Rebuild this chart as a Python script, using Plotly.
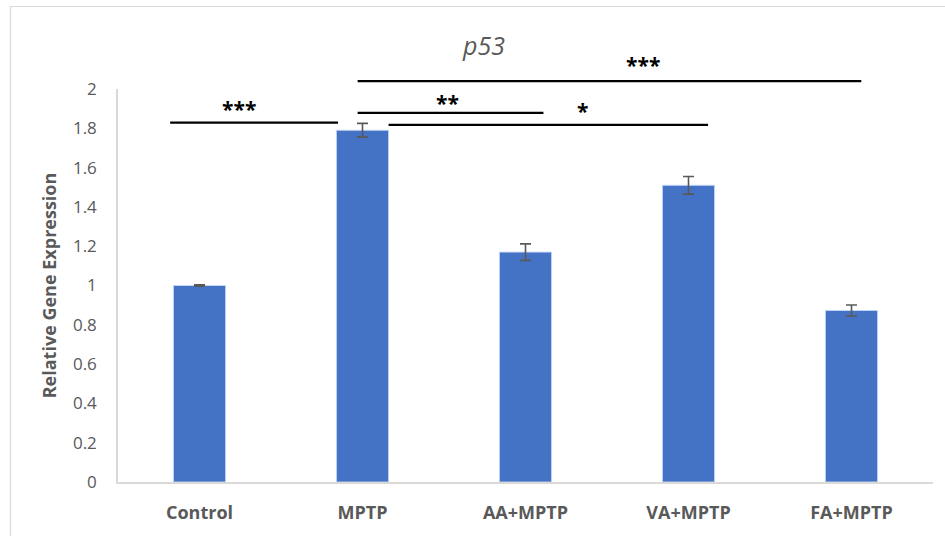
import plotly.graph_objects as go

categories = ["Control", "MPTP", "AA+MPTP", "VA+MPTP", "FA+MPTP"]
values = [1.0, 1.79, 1.17, 1.51, 0.873]
errors = [0.004, 0.035, 0.042, 0.045, 0.028]
y_ticks = [0, 0.2, 0.4, 0.6, 0.8, 1.0, 1.2, 1.4, 1.6, 1.8, 2.0]
y_tick_labels = ["0", "0.2", "0.4", "0.6", "0.8", "1", "1.2", "1.4", "1.6", "1.8", "2"]
# significance brackets: (x_start, x_end, y_line, label, x_label, y_label) in category/data units
brackets = [
    (-0.18, 0.85, 1.829, "***", 0.24, 1.90),
    (0.97, 4.06, 2.04, "***", 2.72, 2.12),
    (0.97, 2.11, 1.879, "**", 1.52, 1.93),
    (1.16, 3.12, 1.817, "*", 2.35, 1.89),
]
Y_MAX = 2.0

W, H = 945, 536
L, R, T, B = 118, 12, 89, 54
PW, PH = W - L - R, H - T - B

FONT = "Open Sans"
GREY = "#595959"

fig = go.Figure()
fig.add_trace(go.Bar(
    x=categories, y=values,
    marker=dict(color="#4472C4", line=dict(color="rgba(200,215,245,0.9)", width=1)),
    error_y=dict(type="data", array=errors, visible=True, color=GREY, thickness=1.6, width=5.5),
    width=0.32,
))

n = len(categories)
shapes = []
annotations = []
for x0, x1, yl, lab, xl, yt in brackets:
    shapes.append(dict(type="line", xref="x domain", yref="y domain",
                       x0=(x0 + 0.5) / n, x1=(x1 + 0.5) / n,
                       y0=yl / Y_MAX, y1=yl / Y_MAX,
                       line=dict(color="black", width=2.2)))
    annotations.append(dict(text="<b>" + lab + "</b>", x=(xl + 0.5) / n, y=yt / Y_MAX,
                            xref="x domain", yref="y domain", showarrow=False,
                            font=dict(family=FONT, size=21, color="black"),
                            xanchor="center", yanchor="middle"))

# chart frame (light grey border)
px = lambda p: (p - L) / PW
py = lambda p: (H - B - p) / PH
shapes.append(dict(type="rect", xref="paper", yref="paper",
                   x0=px(10.5), x1=px(W + 20), y0=py(H + 20), y1=py(6.5),
                   line=dict(color="#d9d9d9", width=1.2), fillcolor="rgba(0,0,0,0)", layer="below"))

annotations.append(dict(text="<i>p53</i>", xref="paper", yref="paper",
                        x=px(483), y=py(45), showarrow=False,
                        font=dict(family=FONT, size=25, color=GREY),
                        xanchor="center", yanchor="middle"))

fig.update_layout(
    width=W, height=H,
    margin=dict(l=L, r=R, t=T, b=B),
    plot_bgcolor="white", paper_bgcolor="white",
    showlegend=False,
    shapes=shapes, annotations=annotations,
    bargap=0.68,
    xaxis=dict(showline=True, linecolor="#d9d9d9", linewidth=1.5, showgrid=False,
               ticks="", tickfont=dict(family=FONT, size=18, color=GREY),
               ticklabelstandoff=14, range=[-0.5, n - 0.5],
               tickvals=categories, ticktext=["<b>" + c + "</b>" for c in categories]),
    yaxis=dict(range=[0, Y_MAX], showline=True, linecolor="#d9d9d9", linewidth=1.5,
               showgrid=False, zeroline=False, ticks="",
               tickvals=y_ticks, ticktext=y_tick_labels,
               tickfont=dict(family=FONT, size=17, color=GREY), ticklabelstandoff=16,
               title=dict(text="<b>Relative Gene Expression</b>",
                          font=dict(family=FONT, size=18, color=GREY), standoff=12)),
)

fig.write_html("out.html")
